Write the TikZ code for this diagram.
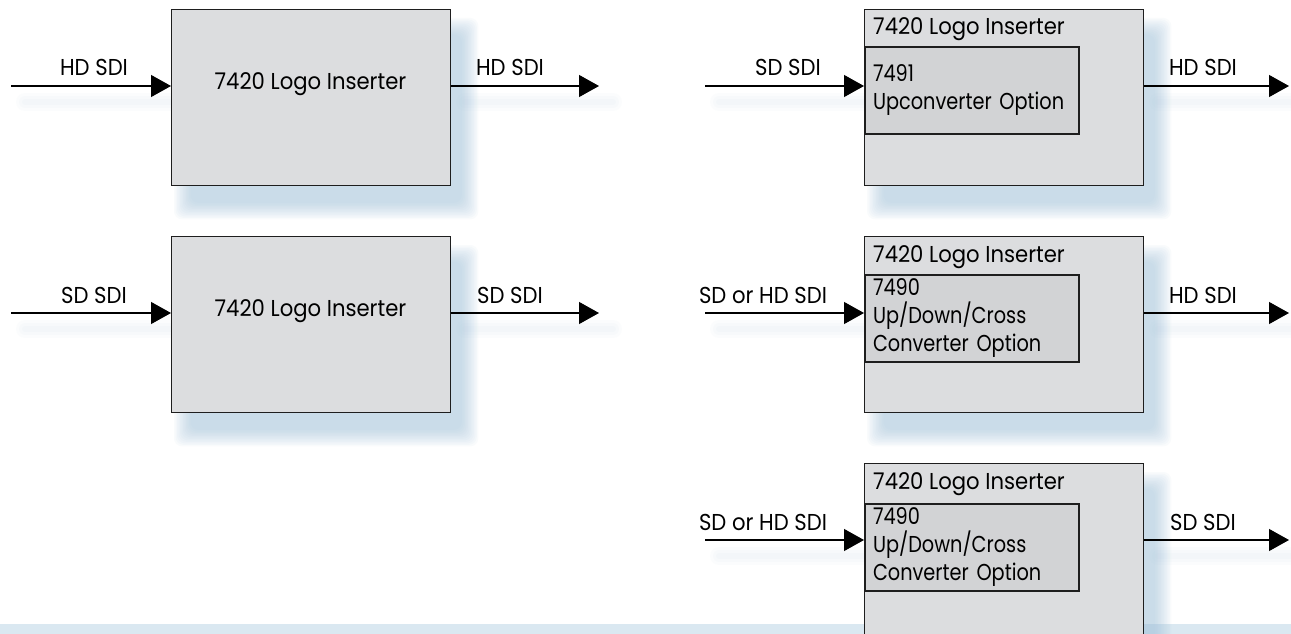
\documentclass[tikz,border=0pt]{standalone}
\usepackage{fontspec}
\setmainfont[FakeStretch=0.92]{Poppins}
\newfontfamily\optfont[FakeStretch=0.84]{Poppins}
\usetikzlibrary{arrows.meta,backgrounds,calc}

\definecolor{boxgrey}{HTML}{DCDDDF}
\definecolor{optgrey}{HTML}{D2D3D5}
\definecolor{edgegrey}{HTML}{1E1E1E}
\definecolor{shadowblue}{HTML}{9CC0DA}
\definecolor{stripblue}{HTML}{DAE8F1}

% soft blue shadow behind a box node
\newcommand{\boxshade}[1]{%
  \foreach \k in {0,...,11}
    \fill[shadowblue, opacity=0.055, rounded corners=8pt]
      ($(#1.north west)+(3+1.5*\k, 9+1.5*\k)$) rectangle ($(#1.south east)+(27-1.5*\k, 33-1.5*\k)$);}
% faint shadow under a signal line
\newcommand{\wireshade}[2]{%
  \foreach \w in {6,12,18}
    \draw[shadowblue, opacity=0.035, line width=\w pt, line cap=round]
      ($(#1)+(14,16)$) -- ($(#2)+(14,16)$);}

\begin{document}
\begin{tikzpicture}[x=1pt, y=-1pt, font=\fontsize{23}{28}\selectfont]
  \tikzset{
    unit/.style={draw=edgegrey, fill=boxgrey, line width=1.3pt, minimum width=279pt,
      minimum height=176pt, inner sep=0pt, anchor=north west},
    option/.style={draw=edgegrey, fill=optgrey, line width=2pt, minimum width=214pt,
      minimum height=87pt, text width=198pt, align=left, inner xsep=8pt, inner ysep=0pt,
      anchor=north west, font=\optfont\fontsize{23}{28}\selectfont},
    sig/.style={draw=black, line width=1.2pt, -{Triangle[length=20pt,width=22pt]}},
    lbl/.style={anchor=base, inner sep=0pt}
  }
  \useasboundingbox (0,0) rectangle (1291,634);

  % left column: logo inserter alone
  \node[unit] (lhd) at (171,9) {};
  \node[unit] (lsd) at (171,236) {};
  \node[lbl] (lhdname) at (310.5,89) {7420 Logo Inserter};
  \node[lbl] (lsdname) at (310.5,316) {7420 Logo Inserter};

  % right column: logo inserter with converter option
  \node[unit] (rup) at (864,9) {};
  \node[unit] (rxhd) at (864,236) {};
  \node[unit, minimum height=190pt] (rxsd) at (864,463) {};
  \node[lbl, anchor=base west] (rupname) at (873,35) {7420 Logo Inserter};
  \node[lbl, anchor=base west] (rxhdname) at (873,262) {7420 Logo Inserter};
  \node[lbl, anchor=base west] (rxsdname) at (873,489) {7420 Logo Inserter};
  \node[option] (rupopt) at (864,46) {7491\\Upconverter Option};
  \node[option] (rxhdopt) at (864,274) {7490\\Up/Down/Cross\\Converter Option};
  \node[option] (rxsdopt) at (864,503) {7490\\Up/Down/Cross\\Converter Option};

  % signal ends
  \coordinate (lhdin) at (11,86);    \coordinate (lhdout) at (599,86);
  \coordinate (lsdin) at (11,313);   \coordinate (lsdout) at (599,313);
  \coordinate (rupin) at (705,86);   \coordinate (rupout) at (1289,86);
  \coordinate (rxhdin) at (705,313); \coordinate (rxhdout) at (1289,313);
  \coordinate (rxsdin) at (705,540); \coordinate (rxsdout) at (1289,540);

  % signals
  \draw[sig] (lhdin) -- (lhdin -| lhd.west);
  \draw[sig] (lhd.east |- lhdout) -- (lhdout);
  \draw[sig] (lsdin) -- (lsdin -| lsd.west);
  \draw[sig] (lsd.east |- lsdout) -- (lsdout);
  \draw[sig] (rupin) -- (rupin -| rup.west);
  \draw[sig] (rup.east |- rupout) -- (rupout);
  \draw[sig] (rxhdin) -- (rxhdin -| rxhd.west);
  \draw[sig] (rxhd.east |- rxhdout) -- (rxhdout);
  \draw[sig] (rxsdin) -- (rxsdin -| rxsd.west);
  \draw[sig] (rxsd.east |- rxsdout) -- (rxsdout);

  % signal labels
  \node[lbl] (lhdinl) at (94,76) {HD SDI};
  \node[lbl] (lhdoutl) at (510,76) {HD SDI};
  \node[lbl] (lsdinl) at (94,303) {SD SDI};
  \node[lbl] (lsdoutl) at (510,303) {SD SDI};
  \node[lbl] (rupinl) at (788,76) {SD SDI};
  \node[lbl] (rupoutl) at (1203,76) {HD SDI};
  \node[lbl] (rxhdinl) at (763,303) {SD or HD SDI};
  \node[lbl] (rxhdoutl) at (1203,303) {HD SDI};
  \node[lbl] (rxsdinl) at (763,530) {SD or HD SDI};
  \node[lbl] (rxsdoutl) at (1203,530) {SD SDI};

  % backdrop, strip and shadows
  \begin{scope}[on background layer]
    \fill[white] (0,0) rectangle (1291,634);
    \fill[stripblue] (0,624) rectangle (1291,634);
    \foreach \b in {lhd,lsd,rup,rxhd,rxsd} {\boxshade{\b}}
    \wireshade{lhdin}{lhdin -| lhd.west}
    \wireshade{lhd.east |- lhdout}{lhdout}
    \wireshade{lsdin}{lsdin -| lsd.west}
    \wireshade{lsd.east |- lsdout}{lsdout}
    \wireshade{rupin}{rupin -| rup.west}
    \wireshade{rup.east |- rupout}{rupout}
    \wireshade{rxhdin}{rxhdin -| rxhd.west}
    \wireshade{rxhd.east |- rxhdout}{rxhdout}
    \wireshade{rxsdin}{rxsdin -| rxsd.west}
    \wireshade{rxsd.east |- rxsdout}{rxsdout}
  \end{scope}
\end{tikzpicture}
\end{document}
